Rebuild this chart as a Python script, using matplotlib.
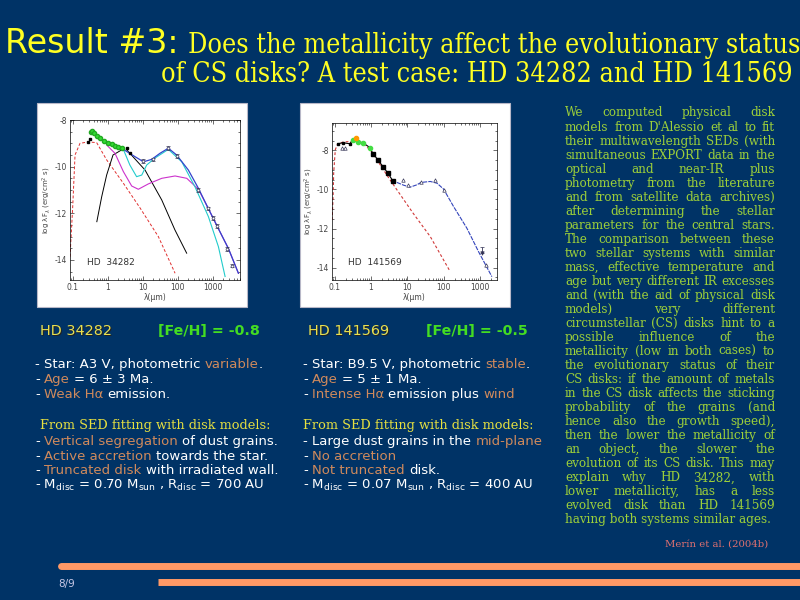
import os
import numpy as np
import matplotlib
matplotlib.use("Agg")
import matplotlib.pyplot as plt
from matplotlib.font_manager import FontProperties
from matplotlib.lines import Line2D
from matplotlib.patches import Rectangle
from matplotlib.ticker import LogLocator, MultipleLocator, NullFormatter

# ---- values ----
# HD 34282 SED: wavelength (micron) vs log lambda F_lambda (erg/cm2/s)
hd34_green_wl = [0.334, 0.365, 0.416, 0.495, 0.617, 0.80, 1.045, 1.3, 1.62, 2.02, 2.51]
hd34_green_f = [-8.53, -8.47, -8.57, -8.69, -8.79, -8.91, -9.0, -9.04, -9.1, -9.16, -9.2]
hd34_black_wl = [0.274, 0.31, 3.49, 4.3]
hd34_black_f = [-8.96, -8.83, -9.19, -9.43]
hd34_ir_wl = [10.4, 20, 54, 94, 390, 750, 1045, 1300, 2510, 3490]
hd34_ir_f = [-9.76, -9.69, -9.21, -9.54, -11.0, -11.79, -12.21, -12.54, -13.53, -14.24]
hd34_star_wl = [0.084, 0.1, 0.117, 0.162, 0.28, 0.485, 0.935, 2.8, 8.4, 28, 84]
hd34_star_f = [-13.86, -11.77, -9.5, -9.0, -8.94, -8.97, -9.71, -10.71, -11.77, -13.0, -14.57]
hd34_total_wl = [1.0, 1.62, 2.8, 6.0, 10.5, 18, 31, 54, 93, 200, 390, 750, 1450, 2800, 5400]
hd34_total_f = [-8.97, -9.11, -9.26, -9.57, -9.79, -9.69, -9.43, -9.21, -9.5, -10.14,
                -10.93, -11.8, -12.66, -13.51, -14.57]
hd34_cyan_wl = [2.8, 4.3, 6.7, 9.4, 13, 22, 54, 130, 310, 750, 1450, 2250]
hd34_cyan_f = [-9.26, -9.93, -10.43, -10.36, -9.93, -9.64, -9.26, -9.79, -10.86, -12.14, -13.43, -14.71]
hd34_mag_wl = [0.935, 1.62, 2.8, 4.85, 7.5, 14.5, 35, 84, 181, 389, 750, 1450, 2800, 5400]
hd34_mag_f = [-9.07, -9.43, -10.21, -10.83, -10.97, -10.74, -10.5, -10.4, -10.5, -10.97,
              -11.8, -12.66, -13.51, -14.57]
hd34_rise_wl = [0.49, 0.675, 0.935, 1.42, 2.8]
hd34_rise_f = [-12.36, -11.29, -10.36, -9.5, -9.24]
hd34_fall_wl = [3.4, 11.6, 35, 83, 180]
hd34_fall_f = [-9.26, -10.14, -11.43, -12.71, -13.71]

# HD 141569 SED
hd14_black_wl = [0.123, 0.17, 0.26]
hd14_black_f = [-7.66, -7.61, -7.66]
hd14_green_wl = [0.327, 0.44, 0.6, 0.94]
hd14_green_f = [-7.45, -7.56, -7.61, -7.86]
hd14_orange_wl = [0.385]
hd14_orange_f = [-7.35]
hd14_sq_wl = [1.13, 1.56, 2.15, 2.9, 4.0]
hd14_sq_f = [-8.17, -8.48, -8.84, -9.15, -9.56]
hd14_tri_wl = [0.16, 0.19, 7.6, 10.4, 23.8, 59, 100, 1490]
hd14_tri_f = [-7.86, -7.86, -9.5, -9.76, -9.64, -9.54, -10.02, -13.86]
hd14_lim_wl = [1135]
hd14_lim_f = [-13.23]
hd14_star_wl = [0.0845, 0.09, 0.094, 0.104, 0.121, 0.177, 0.3, 0.41, 0.96, 3.33, 14.3, 43, 152]
hd14_star_f = [-11.56, -10.53, -9.16, -7.97, -7.66, -7.57, -7.54, -7.42, -7.97, -9.5, -11.2, -12.41, -14.2]
hd14_total_wl = [3.8, 5.2, 7.9, 12, 18.5, 23.8, 43, 66, 100, 188, 438, 918, 2140]
hd14_total_f = [-9.5, -9.64, -9.78, -9.88, -9.76, -9.64, -9.59, -9.68, -9.98, -10.87, -11.98, -13.18, -14.46]

xtick_vals = [0.1, 1, 10, 100, 1000]
xtick_labels = ["0.1", "1", "10", "100", "1000"]
ytick_vals = [-8, -10, -12, -14]
ytick_labels = ["-8", "-10", "-12", "-14"]

title_left = "Result #3:"
title_line1 = "Does the metallicity affect the evolutionary status"
title_line2 = "of CS disks? A test case: HD 34282 and HD 141569"

W = "#ffffff"
O = "#d08a5c"
star1_name, star1_feh = "HD 34282", "[Fe/H] = -0.8"
star2_name, star2_feh = "HD 141569", "[Fe/H] = -0.5"
star1_props = [
    [("- Star: A3 V, photometric ", W), ("variable", O), (".", W)],
    [("- ", W), ("Age", O), (" = 6 \u00b1 3 Ma.", W)],
    [("- ", W), ("Weak H\u03b1", O), (" emission.", W)],
]
star1_fit = [
    [("- ", W), ("Vertical segregation", O), (" of dust grains.", W)],
    [("- ", W), ("Active accretion", O), (" towards the star.", W)],
    [("- ", W), ("Truncated disk", O), (" with irradiated wall.", W)],
    [("- M$_{\\rm disc}$ = 0.70 M$_{\\rm sun}$ , R$_{\\rm disc}$ = 700 AU", W)],
]
star2_props = [
    [("- Star: B9.5 V, photometric ", W), ("stable", O), (".", W)],
    [("- ", W), ("Age", O), (" = 5 \u00b1 1 Ma.", W)],
    [("- ", W), ("Intense H\u03b1", O), (" emission plus ", W), ("wind", O), (".", "#1a2a50")],
]
star2_fit = [
    [("- Large dust grains in the ", W), ("mid-plane", O), (".", "#1a2a50")],
    [("- ", W), ("No accretion", O), (".", "#1a2a50")],
    [("- ", W), ("Not truncated", O), (" disk.", W)],
    [("- M$_{\\rm disc}$ = 0.07 M$_{\\rm sun}$ , R$_{\\rm disc}$ = 400 AU", W)],
]
fit_head = "From SED fitting with disk models:"

summary_lines = [
    "We computed physical disk",
    "models from D'Alessio et al to fit",
    "their multiwavelength SEDs (with",
    "simultaneous EXPORT data in the",
    "optical and near-IR plus",
    "photometry from the literature",
    "and from satellite data archives)",
    "after determining the stellar",
    "parameters for the central stars.",
    "The comparison between these",
    "two stellar systems with similar",
    "mass, effective temperature and",
    "age but very different IR excesses",
    "and (with the aid of physical disk",
    "models) very different",
    "circumstellar (CS) disks hint to a",
    "possible influence of the",
    "metallicity (low in both cases) to",
    "the evolutionary status of their",
    "CS disks: if the amount of metals",
    "in the CS disk affects the sticking",
    "probability of the grains (and",
    "hence also the growth speed),",
    "then the lower the metallicity of",
    "an object, the slower the",
    "evolution of its CS disk. This may",
    "explain why HD 34282, with",
    "lower metallicity, has a less",
    "evolved disk than HD 141569",
    "having both systems similar ages.",
]
citation = "Mer\u00edn et al. (2004b)"
page = "8/9"

BG = "#003366"
YEL = "#ffff22"

# regular (wide) DejaVu Serif straight from matplotlib's own font folder
serif_file = os.path.join(matplotlib.get_data_path(), "fonts", "ttf", "DejaVuSerif.ttf")
if os.path.exists(serif_file):
    serif_reg = dict(fontproperties=FontProperties(fname=serif_file))
else:
    serif_reg = dict(family="DejaVu Serif")

fig = plt.figure(figsize=(8, 6), dpi=100)
fig.patch.set_facecolor(BG)
R = fig.canvas.get_renderer()


def fx(x):
    return x / 800.0


def fy(y):
    return 1.0 - y / 600.0


def tw(s, **kw):
    t = fig.text(0, 0, s, **kw)
    w = t.get_window_extent(R).width
    t.remove()
    return w


def fit(s, width, **kw):
    return 10.0 * width / tw(s, fontsize=10, **kw)


def put(x, y, s, **kw):
    return fig.text(fx(x), fy(y), s, va="baseline", **kw)


def put_runs(x, y, runs, **kw):
    sp = tw("n n", **kw) - tw("nn", **kw)
    for s, c in runs:
        core = s.strip(" ")
        x += (len(s) - len(s.lstrip(" "))) * sp
        if core:
            put(x, y, core, color=c, **kw)
            x += tw(core, **kw)
        x += (len(s) - len(s.rstrip(" "))) * sp


# ---- title ----
sans = dict(family="DejaVu Sans")
tkw = dict(family="DejaVu Serif", fontstretch="condensed")
put(5, 53, title_left, fontsize=fit(title_left, 173, **sans), color=YEL, **sans)
ts = fit(title_line1, 610, **tkw)
put(188, 53, title_line1, fontsize=ts, color=YEL, **tkw)
put(793, 82, title_line2, fontsize=ts, color=YEL, ha="right", **tkw)


# ---- SED panels ----
def sed_axes(panel, box, xlim, ylim, name):
    pl, pt, pr, pb = panel
    fig.add_artist(Rectangle((fx(pl), fy(pb)), (pr - pl) / 800, (pb - pt) / 600,
                             transform=fig.transFigure, facecolor="white",
                             edgecolor="#b8b8c8", lw=0.8, zorder=-1))
    l, t, r, b = box
    ax = fig.add_axes([fx(l), fy(b), (r - l) / 800, (b - t) / 600])
    ax.set_facecolor("white")
    ax.set_xscale("log")
    ax.set_xlim(*xlim)
    ax.set_ylim(*ylim)
    ax.set_xticks(xtick_vals)
    ax.set_xticklabels(xtick_labels)
    ax.xaxis.set_minor_locator(LogLocator(base=10, subs=np.arange(2, 10)))
    ax.xaxis.set_minor_formatter(NullFormatter())
    ax.set_yticks(ytick_vals)
    ax.set_yticklabels(ytick_labels)
    ax.yaxis.set_minor_locator(MultipleLocator(0.5))
    ax.tick_params(which="both", direction="in", top=True, right=True, width=0.4,
                   labelsize=5.5, labelcolor="#444444", pad=2)
    ax.tick_params(which="major", length=3)
    ax.tick_params(which="minor", length=1.5)
    for sp in ax.spines.values():
        sp.set_linewidth(0.5)
    ax.set_xlabel("\u03bb(\u03bcm)", fontsize=5.5, color="#444444", labelpad=1)
    ax.set_ylabel("log \u03bbF$_\\lambda$ (erg/cm$^2$ s)", fontsize=5, color="#444444", labelpad=1)
    ax.text(0.1, 0.095, name, transform=ax.transAxes, fontsize=6.5, color="#333333")
    return ax


ax1 = sed_axes((37, 103, 247, 307), (70, 120, 240, 280), (0.084, 6000), (-14.86, -8), "HD  34282")
ax1.plot(hd34_star_wl, hd34_star_f, color="#e03030", lw=0.7, dashes=(3, 2))
ax1.plot(hd34_rise_wl, hd34_rise_f, color="black", lw=0.7)
ax1.plot(hd34_fall_wl, hd34_fall_f, color="black", lw=0.7)
ax1.plot(hd34_mag_wl, hd34_mag_f, color="#cc33cc", lw=0.8)
ax1.plot(hd34_cyan_wl, hd34_cyan_f, color="#22cccc", lw=0.8)
ax1.plot(hd34_total_wl, hd34_total_f, color="#3344cc", lw=0.9)
ax1.plot(hd34_green_wl, hd34_green_f, color="#33dd33", lw=1.5, marker="o", ms=3,
         mec="#22aa22")
ax1.plot(hd34_black_wl, hd34_black_f, "s", color="black", ms=2)
ax1.errorbar(hd34_ir_wl, hd34_ir_f, yerr=0.08, fmt="o", ms=2, mfc="white",
             mec="#333355", ecolor="#333355", elinewidth=0.5, capsize=1.2, mew=0.5)

ax2 = sed_axes((300, 103, 510, 307), (332, 123, 497, 280), (0.0845, 2960), (-14.63, -6.6), "HD  141569")
phot_wl = hd14_black_wl + hd14_green_wl + hd14_sq_wl
phot_f = hd14_black_f + hd14_green_f + hd14_sq_f
order = np.argsort(phot_wl)
ax2.plot(hd14_star_wl, hd14_star_f, color="#d03838", lw=0.8, dashes=(2.5, 2))
ax2.plot(np.array(phot_wl)[order], np.array(phot_f)[order], color="black", lw=0.8)
ax2.plot(hd14_total_wl, hd14_total_f, color="#3344bb", lw=0.8, dashes=(4, 1))
ax2.plot(hd14_green_wl, hd14_green_f, "o", color="#44dd44", ms=3)
ax2.plot(hd14_orange_wl, hd14_orange_f, "o", color="#ff9900", ms=3)
ax2.plot(hd14_black_wl, hd14_black_f, "s", color="black", ms=2)
ax2.plot(hd14_sq_wl, hd14_sq_f, "s", color="black", ms=2.5)
ax2.plot(hd14_tri_wl, hd14_tri_f, "^", mfc="white", mec="#333355", ms=2.5, mew=0.5)
ax2.errorbar(hd14_lim_wl, hd14_lim_f, yerr=[[0.0], [0.3]], fmt="v", ms=2.5, color="#333355",
             elinewidth=0.6, capsize=1.5, mew=0.5)

# ---- star summaries ----
bkw = dict(family="DejaVu Sans")
bs = fit("- Vertical segregation of dust grains.", 240, **bkw)
hs = fit(fit_head, 230, **serif_reg)
ns = fit(star1_name, 72, **bkw)
fs = fit(star1_feh, 102, weight="bold", **bkw)

for x0, name, feh, props, fits in [(35, star1_name, star1_feh, star1_props, star1_fit),
                                   (303, star2_name, star2_feh, star2_props, star2_fit)]:
    hx = x0 + 5
    put(hx + 1, 336, name, fontsize=ns, color="#222222", **bkw)
    put(hx, 335, name, fontsize=ns, color="#e8e050", **bkw)
    put(hx + 118, 335, feh, fontsize=fs, color="#44dd22", weight="bold", **bkw)
    for i, runs in enumerate(props):
        put_runs(x0, 368 + 15 * i, runs, fontsize=bs, **bkw)
    put(x0 + (5 if x0 < 100 else 0), 429, fit_head, fontsize=hs, color="#e6e040", **serif_reg)
    for i, runs in enumerate(fits):
        put_runs(x0, 445 + 14.7 * i, runs, fontsize=bs, **bkw)

# ---- justified summary column ----
ps = fit(summary_lines[-1], 207, **serif_reg)
PCOL = "#9ccf3a"
for i, line in enumerate(summary_lines):
    y = 116.5 + 14.03 * i
    words = line.split()
    if i == len(summary_lines) - 1:
        put(565, y, line, fontsize=ps, color=PCOL, **serif_reg)
        continue
    ws = [tw(w, fontsize=ps, **serif_reg) for w in words]
    gap = (775 - 565 - sum(ws)) / (len(words) - 1)
    x = 565
    for w, wd in zip(words, ws):
        put(x, y, w, fontsize=ps, color=PCOL, **serif_reg)
        x += wd + gap

put(665, 547, citation, fontsize=fit(citation, 103, **serif_reg), color="#e07070", **serif_reg)

# ---- footer ----
fig.add_artist(Line2D([fx(61), fx(810)], [fy(566), fy(566)], lw=5.0, color="#ff9966",
                      solid_capstyle="round", transform=fig.transFigure))
fig.add_artist(Line2D([fx(158), fx(810)], [fy(581.5), fy(581.5)], lw=5.0, color="#ff9966",
                      solid_capstyle="butt", transform=fig.transFigure))
put(58, 587, page, fontsize=7.5, color="#c8c8e6", family="DejaVu Sans")

fig.savefig("out.png", dpi=100, facecolor=BG)
